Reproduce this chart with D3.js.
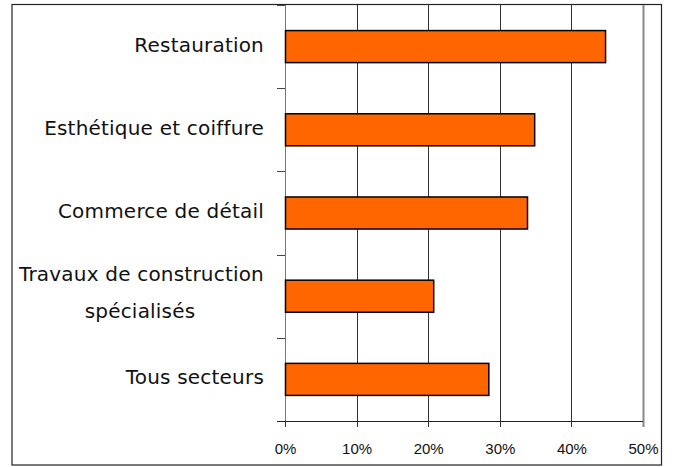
<!DOCTYPE html>
<html>
<head>
<meta charset="utf-8">
<script src="https://cdn.jsdelivr.net/npm/d3@7"></script>
<style>
  body { margin: 0; background: #fff; }
  svg { display: block; }
</style>
</head>
<body>
<script>
// categories (top to bottom), label lines
var categories = ["Restauration", "Esthétique et coiffure", "Commerce de détail",
    "Travaux de construction|spécialisés", "Tous secteurs"];
var values = [0.447, 0.348, 0.338, 0.207, 0.284];   // share
var xTicks = [0, 0.1, 0.2, 0.3, 0.4, 0.5];

var W = 674, H = 467;
var plot = { left: 285, right: 643, top: 5, bottom: 421 };

var svg = d3.select("body").append("svg")
    .attr("width", W)
    .attr("height", H);

// outer frame
svg.append("rect")
    .attr("x", 12).attr("y", 4.5)
    .attr("width", 649.5).attr("height", 460.5)
    .attr("fill", "#fff")
    .attr("stroke", "#222")
    .attr("stroke-width", 1.2);

var x = d3.scaleLinear()
    .domain([0, 0.5])
    .range([plot.left, plot.right]);

var y = d3.scaleBand()
    .domain(categories)
    .range([plot.top, plot.bottom])
    .paddingInner(0.615)
    .paddingOuter(0.3075);

// vertical gridlines, running a bit under the axis like tick marks
svg.append("g").selectAll("line")
    .data(xTicks)
    .enter()
    .append("line")
    .attr("x1", function(d) { return Math.round(x(d)) + 0.5; })
    .attr("x2", function(d) { return Math.round(x(d)) + 0.5; })
    .attr("y1", plot.top)
    .attr("y2", plot.bottom + 6)
    .attr("stroke", function(d) { return d === 0.5 ? "#888" : "#333"; })
    .attr("stroke-width", function(d) { return d === 0.5 ? 2 : 1; });

// y axis line + boundary ticks on the left
svg.append("line")
    .attr("x1", plot.left + 0.5).attr("x2", plot.left + 0.5)
    .attr("y1", plot.top).attr("y2", plot.bottom)
    .attr("stroke", "#777");

var bounds = d3.range(categories.length + 1).map(function(i) {
    return plot.top + i * y.step();
});
svg.append("g").selectAll("line")
    .data(bounds)
    .enter()
    .append("line")
    .attr("x1", plot.left - 8).attr("x2", plot.left)
    .attr("y1", function(d) { return Math.round(d) + 0.5; })
    .attr("y2", function(d) { return Math.round(d) + 0.5; })
    .attr("stroke", "#444");

// x axis line
svg.append("line")
    .attr("x1", plot.left - 8).attr("x2", plot.right)
    .attr("y1", plot.bottom + 0.5).attr("y2", plot.bottom + 0.5)
    .attr("stroke", "#222");

// x axis labels
var xAxis = d3.axisBottom(x)
    .tickValues(xTicks)
    .tickFormat(d3.format(".0%"))
    .tickSize(0)
    .tickPadding(0);

var gx = svg.append("g")
    .attr("transform", "translate(0," + (plot.bottom + 22) + ")")
    .call(xAxis);
gx.select(".domain").remove();
gx.selectAll("text")
    .attr("font-family", "'Liberation Sans', Arial, sans-serif")
    .attr("font-size", "15px")
    .attr("fill", "#111");

// bars
svg.append("g").selectAll("rect")
    .data(values)
    .enter()
    .append("rect")
    .attr("x", x(0) + 0.5)
    .attr("y", function(d, i) { return y(categories[i]); })
    .attr("width", function(d) { return x(d) - x(0); })
    .attr("height", y.bandwidth())
    .attr("fill", "#ff6600")
    .attr("stroke", "#000")
    .attr("stroke-width", 1.5);

// category labels (one or two lines)
var labels = svg.append("g")
    .attr("font-family", "'DejaVu Sans', sans-serif")
    .attr("font-size", "20px")
    .attr("letter-spacing", "0.2px")
    .attr("fill", "#111")
    .attr("text-anchor", "end");

categories.forEach(function(c) {
    var lines = c.split("|");
    var cy = y(c) + y.bandwidth() / 2;
    if (lines.length === 1) {
        labels.append("text")
            .attr("x", 264)
            .attr("y", cy + 5)
            .text(lines[0]);
    } else {
        labels.append("text")
            .attr("x", 264)
            .attr("y", cy - 15.5)
            .text(lines[0]);
        labels.append("text")
            .attr("x", 140)
            .attr("y", cy + 22)
            .attr("text-anchor", "middle")
            .text(lines[1]);
    }
});
</script>
</body>
</html>
